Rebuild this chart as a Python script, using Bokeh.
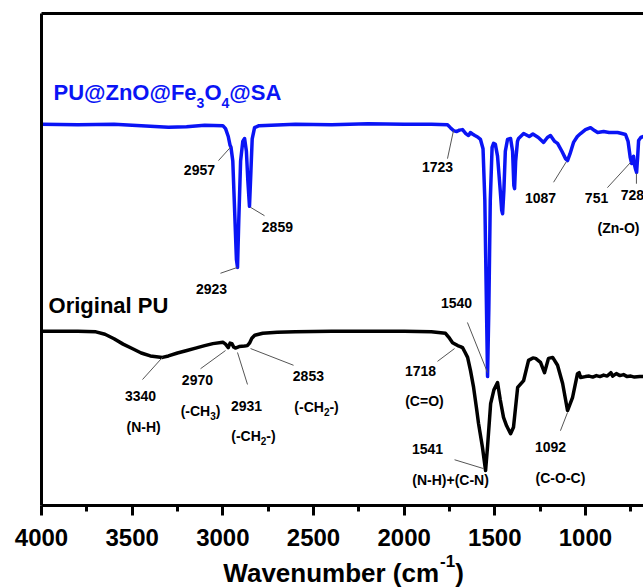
from bokeh.plotting import figure
from bokeh.layouts import column
from bokeh.models import Range1d, LinearAxis, FixedTicker, Label
from bokeh.embed import file_html
from bokeh.resources import INLINE
from bokeh.core.properties import value

FONT = "Liberation Sans"

# ---------------- data (wavenumber, transmittance in arbitrary units) ----------------
pu_wn = [4000, 3800, 3600, 3450, 3300, 3200, 3100, 3000, 2985, 2970, 2960, 2955, 2945, 2935,
         2925, 2919, 2912, 2902, 2890, 2880, 2870, 2862, 2853, 2845, 2838, 2825, 2800, 2600,
         2400, 2200, 2000, 1850, 1761, 1745, 1728, 1710, 1695, 1678, 1660, 1645, 1635, 1623,
         1610, 1595, 1579, 1565, 1555, 1548, 1540, 1533, 1525, 1515, 1507, 1497, 1485, 1470,
         1462, 1457, 1450, 1442, 1430, 1413, 1402, 1395, 1391, 1385, 1375, 1369, 1341, 1310,
         1290, 1260, 1231, 1210, 1193, 1170, 1154, 1130, 1110, 1099, 1085, 1066, 1045, 1027,
         1000, 972, 950, 933, 900, 870, 823, 800, 779, 765, 753, 745, 740, 735, 731, 725, 718,
         712, 707, 695, 680]
pu_t = [77.5, 77.4, 77.5, 77.2, 76.9, 77.0, 77.3, 77.2, 76.6, 75.0, 73.2, 72.8, 70.0, 60.0,
        50.0, 48.4, 58.0, 70.0, 74.0, 74.6, 72.0, 66.0, 60.8, 68.0, 74.5, 76.8, 77.2, 77.5,
        77.4, 77.6, 77.5, 77.5, 77.4, 76.8, 76.2, 76.0, 76.3, 76.4, 75.6, 75.2, 75.8, 75.5,
        75.2, 74.9, 74.4, 72.5, 62.0, 45.0, 26.2, 40.0, 62.0, 72.8, 73.6, 73.4, 71.0, 64.0,
        60.0, 59.3, 64.0, 72.0, 74.4, 74.6, 72.0, 65.0, 64.4, 70.0, 74.0, 74.6, 75.6, 75.0,
        75.5, 74.8, 73.8, 74.8, 75.2, 74.0, 73.6, 72.0, 70.5, 70.1, 71.5, 73.8, 75.0, 75.6,
        76.4, 76.8, 76.2, 75.8, 76.0, 75.8, 75.8, 75.6, 75.4, 74.0, 70.7, 69.5, 69.6, 71.0,
        69.5, 68.5, 67.7, 71.0, 74.2, 74.8, 75.0]

orig_wn = [4000, 3800, 3700, 3650, 3600, 3550, 3500, 3450, 3400, 3333, 3300, 3250, 3198, 3150,
           3100, 3055, 3000, 2985, 2970, 2960, 2950, 2940, 2931, 2910, 2880, 2865, 2853, 2840,
           2824, 2780, 2700, 2600, 2400, 2200, 2000, 1850, 1772, 1750, 1733, 1705, 1690, 1678,
           1665, 1650, 1634, 1617, 1600, 1590, 1568, 1551, 1540, 1523, 1505, 1485, 1470, 1452,
           1435, 1413, 1397, 1374, 1341, 1314, 1290, 1275, 1248, 1226, 1204, 1181, 1154, 1126,
           1099, 1071, 1044, 1035, 1027, 1000, 980, 960, 940, 920, 900, 880, 860, 850, 830, 810,
           790, 770, 750, 730, 700, 680]
orig_t = [35.4, 35.4, 35.3, 34.8, 33.9, 32.8, 31.9, 31.0, 30.4, 30.1, 30.4, 31.0, 31.5, 32.0,
          32.5, 32.9, 33.2, 32.8, 32.1, 33.0, 32.9, 32.2, 32.0, 32.3, 32.4, 32.5, 33.0, 34.0,
          34.6, 35.0, 35.2, 35.3, 35.4, 35.4, 35.4, 35.3, 35.0, 34.0, 33.1, 32.5, 32.3, 32.1,
          31.2, 30.1, 27.4, 24.0, 19.5, 16.7, 11.8, 7.1, 12.0, 20.7, 23.5, 25.0, 21.5, 17.9,
          16.2, 14.6, 15.9, 24.0, 25.4, 29.5, 30.0, 29.9, 29.1, 27.0, 29.9, 30.1, 28.5, 24.8,
          19.3, 22.0, 26.8, 27.0, 26.0, 26.2, 26.3, 26.1, 26.4, 26.2, 26.5, 26.3, 27.0, 26.3,
          26.8, 26.4, 26.6, 26.2, 26.3, 26.1, 26.2, 26.2]

x_ticks = [4000, 3500, 3000, 2500, 2000, 1500, 1000]
x_minor = [3750, 3250, 2750, 2250, 1750, 1250, 750]

# peak annotations: text, label position, leader start, leader end
ann_text = ["2957", "2923", "2859", "1723", "1087", "751", "728", "(Zn-O)", "1540",
            "3340", "(N-H)", "2970", "2931", "2853", "1718", "(C=O)", "1541",
            "(N-H)+(C-N)", "1092", "(C-O-C)"]
ann_x = [3129, 3062, 2699, 1816, 1248, 939, 741, 818, 1711,
         3454, 3437, 3140, 2869, 2528, 1910, 1888, 1871, 1744, 1193, 1138]
ann_y = [68.1, 44.1, 56.7, 68.7, 62.6, 62.6, 63.2, 56.5, 41.1,
         22.2, 15.9, 25.6, 20.3, 26.4, 27.4, 21.3, 11.4, 5.1, 11.8, 5.5]

lead_x0 = [3024, 3013, 2770, 1761, 1176, 879, 719, 1651, 3443, 3123, 2864, 2610, 1816, 1722, 1138]
lead_y0 = [70.1, 47.2, 58.9, 70.5, 65.7, 64.6, 65.4, 37.2, 25.6, 27.8, 24.6, 28.5, 29.3, 9.3, 15.2]
lead_x1 = [2958, 2919, 2847, 1728, 1105, 752, 719, 1540, 3333, 2985, 2919, 2847, 1722, 1562, 1099]
lead_y1 = [72.8, 48.4, 60.6, 76.2, 69.9, 69.7, 67.5, 27.0, 30.1, 31.5, 31.1, 31.9, 31.9, 7.5, 18.9]

x_title = ["Wavenumber (cm", "-1", ")"]

# ---------------- main figure ----------------
p = figure(width=643, height=550, output_backend="svg", toolbar_location=None,
           x_range=Range1d(4000, 680), y_range=Range1d(0, 100),
           min_border_left=41, min_border_right=0, min_border_top=13, min_border_bottom=45)
p.outline_line_color = None
p.background_fill_color = "white"
p.border_fill_color = "white"
p.xgrid.visible = False
p.ygrid.visible = False

xa = p.xaxis[0]
xa.ticker = FixedTicker(ticks=x_ticks, minor_ticks=x_minor)
xa.axis_line_width = 3
xa.major_tick_line_width = 3
xa.minor_tick_line_width = 3
xa.major_tick_in = 0
xa.major_tick_out = 10
xa.minor_tick_in = 0
xa.minor_tick_out = 6
xa.major_label_text_font = FONT
xa.major_label_text_font_style = "bold"
xa.major_label_text_font_size = "24px"
xa.major_label_text_color = "black"
xa.major_label_standoff = 13

ya = p.yaxis[0]
ya.ticker = FixedTicker(ticks=[])
ya.axis_line_width = 3
ya.major_tick_out = 0
ya.major_tick_in = 0
ya.major_label_standoff = 0

top = LinearAxis(ticker=FixedTicker(ticks=[]), axis_line_width=3, major_tick_out=0,
                 major_tick_in=0, major_label_standoff=0)
p.add_layout(top, "above")

p.line(pu_wn, pu_t, line_color="#0a14f5", line_width=3.5, line_join="round")
p.line(orig_wn, orig_t, line_color="black", line_width=3.5, line_join="round")

p.segment(x0=lead_x0, y0=lead_y0, x1=lead_x1, y1=lead_y1, line_color="#555555", line_width=1)

p.text(x=ann_x, y=ann_y, text=ann_text, text_font=value(FONT), text_font_style="bold",
       text_font_size="14px", text_align="center", text_baseline="middle", text_color="black")

# ---------------- rich labels with sub/superscripts ----------------
WID = {' ': .278, '(': .333, ')': .333, '-': .333, '@': .975, '+': .584, '=': .584,
       'A': .722, 'C': .722, 'H': .722, 'N': .722, 'O': .778, 'P': .667, 'S': .667, 'U': .722,
       'Z': .611, 'F': .611, 'W': .944, 'a': .556, 'b': .611, 'c': .556, 'e': .556, 'g': .611,
       'i': .278, 'l': .278, 'm': .889, 'n': .611, 'r': .389, 'u': .611, 'v': .556}


def tw(s, size):
    return sum(WID.get(ch, .556) for ch in s) * size


def rich(fig, x, y, segs, color="black", align="center"):
    total = sum(tw(t, s) for t, s, _ in segs)
    off = -total / 2 if align == "center" else 0
    for t, s, dy in segs:
        fig.add_layout(Label(x=x, y=y, x_offset=off, y_offset=dy, text=t,
                             text_font=FONT, text_font_style="bold", text_font_size=f"{s}px",
                             text_color=color, text_align="left", text_baseline="middle"))
        off += tw(t, s)


rich(p, 3934, 83.9, [("PU@ZnO@Fe", 22, 0), ("3", 14, -10), ("O", 22, 0), ("4", 14, -10),
                     ("@SA", 22, 0)], color="#0a14f5", align="left")
rich(p, 3961, 40.65, [("Original PU", 22, 0)], align="left")
rich(p, 3123, 19.3, [("(-CH", 14, 0), ("3", 10, -5), (")", 14, 0)])
rich(p, 2831, 14.2, [("(-CH", 14, 0), ("2", 10, -5), ("-)", 14, 0)])
rich(p, 2483, 20.1, [("(-CH", 14, 0), ("2", 10, -5), ("-)", 14, 0)])

# ---------------- x-axis title strip (allows a real superscript) ----------------
q = figure(width=643, height=37, output_backend="svg", toolbar_location=None,
           x_range=Range1d(4000, 680), y_range=Range1d(-37, 0),
           x_axis_type=None, y_axis_type=None,
           min_border_left=41, min_border_right=0, min_border_top=0, min_border_bottom=0)
q.outline_line_color = None
q.xgrid.visible = False
q.ygrid.visible = False
rich(q, 2334, -22.5, [(x_title[0], 26, 0), (x_title[1], 17, 12), (x_title[2], 26, 0)])

open("out.html", "w").write(file_html(column(p, q, spacing=0), INLINE))
